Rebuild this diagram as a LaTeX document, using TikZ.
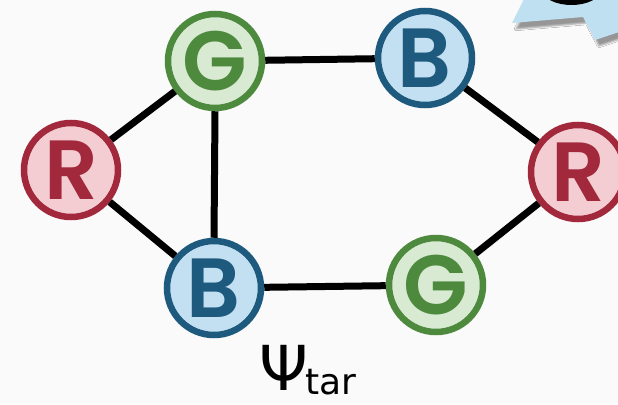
\documentclass[tikz,border=0pt]{standalone}
\usepackage{fontspec}
\newfontfamily\vtxfont{Poppins}[UprightFont=* SemiBold]
\newfontfamily\labelfont{DejaVu Sans}
\usetikzlibrary{shadows.blur}
\definecolor{bgc}{HTML}{FAFAFA}
\definecolor{gfill}{HTML}{D9EAD3}
\definecolor{gline}{HTML}{4E8A3E}
\definecolor{bfill}{HTML}{C3E0F2}
\definecolor{bline}{HTML}{1E5A7E}
\definecolor{rfill}{HTML}{F4CDD3}
\definecolor{rline}{HTML}{A2283B}
\definecolor{bubble}{HTML}{BFE0F0}
\tikzset{
  vtx/.style={circle, minimum size=94pt, inner sep=0pt, line width=6.5pt,
    font=\vtxfont\fontsize{84}{84}\selectfont},
  gvtx/.style={vtx, draw=gline, fill=gfill, text=gline},
  bvtx/.style={vtx, draw=bline, fill=bfill, text=bline},
  rvtx/.style={vtx, draw=rline, fill=rfill, text=rline},
  link/.style={line width=7pt, black},
}
\begin{document}
\begin{tikzpicture}[x=1pt, y=-1pt]
  \fill[bgc] (0,0) rectangle (618,404);
  \useasboundingbox (0,0) rectangle (618,404);
  % speech bubble peeking in at the top right corner
  \begin{scope}
    \clip (0,0) rectangle (618,404);
    \fill[bubble, blur shadow={shadow xshift=4pt, shadow yshift=-6pt, shadow opacity=40}]
      (526,-5) -- (512,23) -- (583,17) -- (595,40) -- (640,25) -- (640,-5) -- cycle;
    \filldraw[fill=bubble!70!blue!80!white, draw=black, line width=5pt]
      (542,-14) .. controls (545,8) and (598,8) .. (601,-14);
  \end{scope}
  % vertices
  \node[gvtx] (g1) at (215,61) {G};
  \node[bvtx] (b1) at (425,58) {B};
  \node[rvtx] (r1) at (71,170) {R};
  \node[rvtx] (r2) at (578,172) {R};
  \node[bvtx] (b2) at (214,288) {B};
  \node[gvtx] (g2) at (436,285) {G};
  % edges
  \draw[link] (g1) -- (b1);
  \draw[link] (g1) -- (r1);
  \draw[link] (g1.south) -- (b2.north);
  \draw[link] (r1) -- (b2);
  \draw[link] (b2) -- (g2);
  \draw[link] (g2) -- (r2);
  \draw[link] (b1) -- (r2);
  % label
  \node[anchor=base, font=\labelfont\fontsize{62}{62}\selectfont, inner sep=0pt, text depth=0pt] (psi) at (284,390) {Ψ};
  \node[anchor=base west, font=\labelfont\fontsize{36}{36}\selectfont, inner sep=0pt, text depth=0pt] (sub) at (305,394) {tar};
\end{tikzpicture}
\end{document}
